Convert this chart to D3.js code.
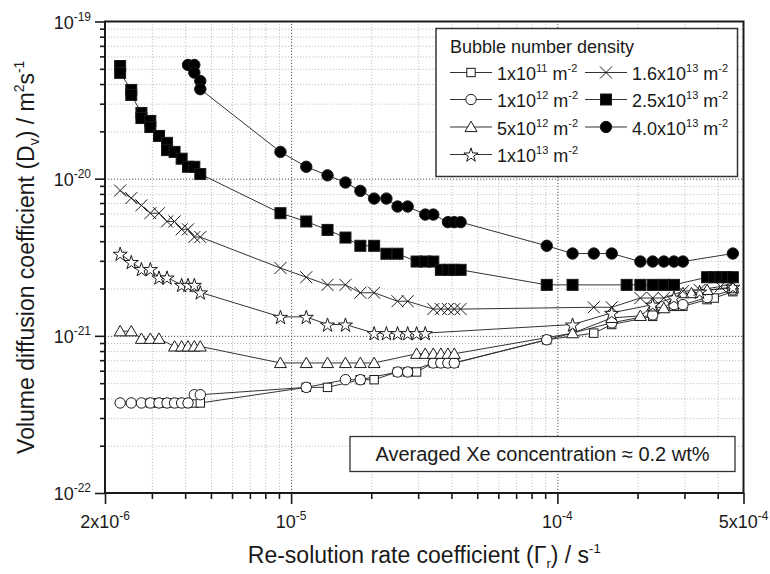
<!DOCTYPE html>
<html>
<head>
<meta charset="utf-8">
<script src="https://cdn.jsdelivr.net/npm/d3@7"></script>
<style>
  html, body { margin: 0; padding: 0; background: #fff; }
  svg { display: block; font-family: 'Liberation Sans', Arial, sans-serif; }
</style>
</head>
<body>
<div class="container"></div>
<script>
// Data: re-solution rate (s^-1) vs volume diffusion coefficient (m^2 s^-1)
const gamma1e11 = [2.96e-6, 3.19e-6, 3.42e-6, 3.65e-6, 3.88e-6, 4.10e-6, 4.33e-6, 4.56e-6, 1.14e-5, 1.37e-5, 1.82e-5, 2.05e-5, 2.51e-5, 2.74e-5, 2.96e-5, 3.42e-5, 3.65e-5, 3.88e-5, 4.10e-5, 9.12e-5, 1.37e-4, 1.60e-4, 2.28e-4, 2.74e-4, 2.96e-4, 3.65e-4, 3.88e-4, 4.56e-4];
const dv1e11 = [3.74e-22, 3.74e-22, 3.74e-22, 3.74e-22, 3.74e-22, 3.74e-22, 3.74e-22, 3.74e-22, 4.70e-22, 4.70e-22, 5.26e-22, 5.26e-22, 5.89e-22, 5.89e-22, 5.89e-22, 6.72e-22, 6.72e-22, 6.72e-22, 6.72e-22, 9.44e-22, 1.04e-21, 1.18e-21, 1.33e-21, 1.54e-21, 1.54e-21, 1.70e-21, 1.74e-21, 1.91e-21];

const gamma1e12 = [2.28e-6, 2.51e-6, 2.74e-6, 2.96e-6, 3.19e-6, 3.42e-6, 3.65e-6, 3.88e-6, 4.10e-6, 4.33e-6, 4.56e-6, 1.14e-5, 1.60e-5, 1.82e-5, 2.51e-5, 2.74e-5, 3.42e-5, 3.65e-5, 3.88e-5, 4.10e-5, 9.12e-5, 1.60e-4, 2.28e-4, 2.74e-4, 2.96e-4, 3.65e-4, 4.56e-4];
const dv1e12 = [3.74e-22, 3.74e-22, 3.74e-22, 3.74e-22, 3.74e-22, 3.74e-22, 3.74e-22, 3.74e-22, 3.74e-22, 4.22e-22, 4.22e-22, 4.70e-22, 5.26e-22, 5.26e-22, 5.89e-22, 5.89e-22, 6.72e-22, 6.72e-22, 6.72e-22, 6.72e-22, 9.44e-22, 1.21e-21, 1.36e-21, 1.58e-21, 1.58e-21, 1.75e-21, 1.96e-21];

const gamma5e12 = [2.28e-6, 2.51e-6, 2.74e-6, 2.96e-6, 3.19e-6, 3.65e-6, 3.88e-6, 4.10e-6, 4.33e-6, 4.56e-6, 9.12e-6, 1.14e-5, 1.37e-5, 1.60e-5, 1.82e-5, 2.05e-5, 2.96e-5, 3.19e-5, 3.42e-5, 3.65e-5, 3.88e-5, 4.10e-5, 1.14e-4, 1.60e-4, 2.05e-4, 2.28e-4, 2.51e-4, 2.96e-4, 3.19e-4, 3.65e-4, 4.56e-4];
const dv5e12 = [1.07e-21, 1.07e-21, 9.58e-22, 9.58e-22, 9.58e-22, 8.56e-22, 8.56e-22, 8.56e-22, 8.56e-22, 8.56e-22, 6.72e-22, 6.72e-22, 6.72e-22, 6.72e-22, 6.72e-22, 6.72e-22, 7.69e-22, 7.69e-22, 7.69e-22, 7.69e-22, 7.69e-22, 7.69e-22, 1.04e-21, 1.30e-21, 1.34e-21, 1.54e-21, 1.50e-21, 1.87e-21, 1.87e-21, 1.96e-21, 2.01e-21];

const gamma1e13 = [2.28e-6, 2.51e-6, 2.74e-6, 2.96e-6, 3.19e-6, 3.42e-6, 3.88e-6, 4.10e-6, 4.33e-6, 4.56e-6, 9.12e-6, 1.14e-5, 1.37e-5, 1.60e-5, 2.05e-5, 2.28e-5, 2.51e-5, 2.74e-5, 2.96e-5, 3.19e-5, 1.14e-4, 1.60e-4, 2.28e-4, 2.74e-4, 3.42e-4, 4.56e-4];
const dv1e13 = [3.33e-21, 2.95e-21, 2.66e-21, 2.66e-21, 2.35e-21, 2.35e-21, 2.11e-21, 2.11e-21, 2.11e-21, 1.89e-21, 1.32e-21, 1.32e-21, 1.18e-21, 1.18e-21, 1.04e-21, 1.04e-21, 1.04e-21, 1.04e-21, 1.04e-21, 1.04e-21, 1.18e-21, 1.40e-21, 1.58e-21, 1.75e-21, 1.91e-21, 2.05e-21];

const gamma16e13 = [2.28e-6, 2.51e-6, 2.74e-6, 2.96e-6, 3.19e-6, 3.42e-6, 3.65e-6, 3.88e-6, 4.10e-6, 4.33e-6, 4.56e-6, 9.12e-6, 1.14e-5, 1.37e-5, 1.60e-5, 1.82e-5, 2.05e-5, 2.51e-5, 2.74e-5, 3.42e-5, 3.65e-5, 3.88e-5, 4.10e-5, 4.33e-5, 1.37e-4, 1.60e-4, 2.05e-4, 2.28e-4, 2.51e-4, 2.96e-4, 3.42e-4, 4.10e-4, 4.56e-4];
const dv16e13 = [8.40e-21, 7.52e-21, 6.76e-21, 6.03e-21, 6.03e-21, 5.34e-21, 5.34e-21, 4.76e-21, 4.76e-21, 4.25e-21, 4.25e-21, 2.70e-21, 2.36e-21, 2.11e-21, 2.11e-21, 1.88e-21, 1.88e-21, 1.66e-21, 1.66e-21, 1.48e-21, 1.48e-21, 1.48e-21, 1.48e-21, 1.48e-21, 1.52e-21, 1.52e-21, 1.74e-21, 1.74e-21, 1.74e-21, 1.92e-21, 1.96e-21, 2.06e-21, 2.17e-21];

const gamma25e13 = [2.28e-6, 2.28e-6, 2.51e-6, 2.51e-6, 2.74e-6, 2.74e-6, 2.96e-6, 2.96e-6, 3.19e-6, 3.42e-6, 3.42e-6, 3.65e-6, 3.88e-6, 4.10e-6, 4.33e-6, 4.56e-6, 9.12e-6, 1.14e-5, 1.37e-5, 1.60e-5, 1.82e-5, 2.05e-5, 2.28e-5, 2.51e-5, 2.96e-5, 3.19e-5, 3.42e-5, 3.65e-5, 3.88e-5, 4.10e-5, 4.33e-5, 9.12e-5, 1.14e-4, 1.82e-4, 2.05e-4, 2.28e-4, 2.51e-4, 2.74e-4, 3.65e-4, 3.88e-4, 4.10e-4, 4.33e-4, 4.56e-4];
const dv25e13 = [5.21e-20, 4.71e-20, 3.67e-20, 3.41e-20, 2.62e-20, 2.43e-20, 2.33e-20, 2.13e-20, 1.87e-20, 1.69e-20, 1.52e-20, 1.48e-20, 1.34e-20, 1.19e-20, 1.19e-20, 1.07e-20, 6.03e-21, 5.34e-21, 4.72e-21, 4.22e-21, 3.74e-21, 3.74e-21, 3.33e-21, 3.33e-21, 2.97e-21, 2.97e-21, 2.97e-21, 2.63e-21, 2.63e-21, 2.63e-21, 2.63e-21, 2.11e-21, 2.11e-21, 2.11e-21, 2.11e-21, 2.11e-21, 2.11e-21, 2.11e-21, 2.36e-21, 2.36e-21, 2.36e-21, 2.36e-21, 2.36e-21];

const gamma4e13 = [4.10e-6, 4.33e-6, 4.33e-6, 4.56e-6, 4.56e-6, 9.12e-6, 1.14e-5, 1.37e-5, 1.60e-5, 1.82e-5, 2.05e-5, 2.28e-5, 2.51e-5, 2.74e-5, 3.19e-5, 3.42e-5, 3.88e-5, 4.10e-5, 4.33e-5, 9.12e-5, 1.14e-4, 1.37e-4, 1.60e-4, 2.05e-4, 2.28e-4, 2.51e-4, 2.74e-4, 2.96e-4, 4.56e-4];
const dv4e13 = [5.29e-20, 5.29e-20, 4.73e-20, 4.18e-20, 3.71e-20, 1.48e-20, 1.19e-20, 1.05e-20, 9.45e-21, 8.36e-21, 7.47e-21, 7.47e-21, 6.65e-21, 6.65e-21, 5.91e-21, 5.91e-21, 5.29e-21, 5.29e-21, 5.29e-21, 3.74e-21, 3.34e-21, 3.34e-21, 3.34e-21, 2.97e-21, 2.97e-21, 2.97e-21, 2.97e-21, 2.97e-21, 3.34e-21];

// Legend labels: [mantissa, exponent]
const seriesMantissa = ['1', '1', '5', '1', '1.6', '2.5', '4.0'];
const seriesExponent = ['11', '12', '12', '13', '13', '13', '13'];
const seriesMarker = ['sq', 'ci', 'tri', 'star', 'x', 'fsq', 'fci'];

// Axis ticks
const xMajorTicks = [2e-6, 1e-5, 1e-4, 5e-4];
const xMajorLabels = [['2x10', '-6'], ['10', '-5'], ['10', '-4'], ['5x10', '-4']];
const yMajorTicks = [1e-22, 1e-21, 1e-20, 1e-19];
const yMajorLabels = [['10', '-22'], ['10', '-21'], ['10', '-20'], ['10', '-19']];

// Constants
const width = 770;
const height = 574;
const margin = { left: 105, right: 26.5, top: 21.5, bottom: 81 };
const innerW = width - margin.left - margin.right;
const innerH = height - margin.top - margin.bottom;
const ink = '#1a1a1a';

const series = [
  [gamma1e11, dv1e11],
  [gamma1e12, dv1e12],
  [gamma5e12, dv5e12],
  [gamma1e13, dv1e13],
  [gamma16e13, dv16e13],
  [gamma25e13, dv25e13],
  [gamma4e13, dv4e13],
].map(([g, d], i) => ({
  marker: seriesMarker[i],
  points: g.map((v, j) => [v, d[j]]),
}));

const x = d3.scaleLog().domain([2e-6, 5e-4]).range([0, innerW]);
const y = d3.scaleLog().domain([1e-22, 1e-19]).range([innerH, 0]);

// minor tick values (every 1..9 of each decade inside the domain)
const xMinor = [];
[1e-6, 1e-5, 1e-4].forEach((dec) => {
  for (let m = 1; m < 10; m++) {
    const v = m * dec;
    if (v > 2e-6 * 1.0001 && v < 5e-4 * 0.9999 && !xMajorTicks.some((t) => Math.abs(t - v) / v < 1e-6)) xMinor.push(v);
  }
});
const yMinor = [];
[1e-22, 1e-21, 1e-20].forEach((dec) => {
  for (let m = 2; m < 10; m++) yMinor.push(m * dec);
});

// helper for super/subscripts
const richText = (sel, parts, size, small) => {
  let shift = 0;
  parts.forEach(([s, mode]) => {
    const target = mode === 'sup' ? -size * 0.42 : mode === 'sub' ? size * 0.22 : 0;
    const ts = sel.append('tspan').attr('dy', target - shift).text(s);
    if (mode) ts.style('font-size', small + 'px');
    shift = target;
  });
};

// marker drawing
const star = d3.symbol().type(d3.symbolStar).size(62);
const drawMarker = (g, type) => {
  const s = { stroke: ink, 'stroke-width': 1 };
  let m;
  if (type === 'sq') m = g.append('rect').attr('x', -4.2).attr('y', -4.2).attr('width', 8.4).attr('height', 8.4).attr('fill', '#fff');
  if (type === 'ci') m = g.append('circle').attr('r', 5.2).attr('fill', '#fff');
  if (type === 'tri') m = g.append('path').attr('d', 'M0,-5.8L6,4.6L-6,4.6Z').attr('fill', '#fff');
  if (type === 'star') m = g.append('path').attr('d', star()).attr('fill', '#fff').attr('transform', 'translate(0,0.8)');
  if (type === 'x') m = g.append('path').attr('d', 'M-6,-6L6,6M-6,6L6,-6').attr('fill', 'none');
  if (type === 'fsq') m = g.append('rect').attr('x', -5.5).attr('y', -5.5).attr('width', 11).attr('height', 11).attr('fill', '#000');
  if (type === 'fci') m = g.append('circle').attr('r', 5.7).attr('fill', '#000');
  Object.entries(s).forEach(([k, v]) => m.attr(k, v));
};

// Create svg
const svg = d3
  .select('.container')
  .append('svg')
  .attr('width', width)
  .attr('height', height);

const plot = svg.append('g').attr('transform', `translate(${margin.left},${margin.top})`);

// Grid lines
const gridStyle = (g, color) =>
  g.call((gg) => gg.select('.domain').remove())
    .selectAll('line')
    .attr('stroke', color)
    .attr('stroke-width', 1)
    .attr('stroke-dasharray', '1.2,1.8');

plot.append('g')
  .attr('transform', `translate(0,${innerH})`)
  .call(d3.axisBottom(x).tickValues(xMinor).tickSize(-innerH).tickFormat(''))
  .call((g) => gridStyle(g, '#c4c4c4'));
plot.append('g')
  .call(d3.axisLeft(y).tickValues(yMinor).tickSize(-innerW).tickFormat(''))
  .call((g) => gridStyle(g, '#c4c4c4'));
plot.append('g')
  .attr('transform', `translate(0,${innerH})`)
  .call(d3.axisBottom(x).tickValues([1e-5, 1e-4]).tickSize(-innerH).tickFormat(''))
  .call((g) => gridStyle(g, '#555'));
plot.append('g')
  .call(d3.axisLeft(y).tickValues([1e-21, 1e-20]).tickSize(-innerW).tickFormat(''))
  .call((g) => gridStyle(g, '#555'));

// Series lines and markers
const line = d3.line().x((d) => x(d[0])).y((d) => y(d[1]));
series.forEach((s) => {
  plot.append('path')
    .datum(s.points)
    .attr('d', line)
    .attr('fill', 'none')
    .attr('stroke', '#333')
    .attr('stroke-width', 1);
});
series.forEach((s) => {
  plot.append('g')
    .selectAll('g')
    .data(s.points)
    .enter()
    .append('g')
    .attr('transform', (d) => `translate(${x(d[0])},${y(d[1])})`)
    .each(function () { drawMarker(d3.select(this), s.marker); });
});

// Axes with ticks
const axisStyle = (g) => {
  g.select('.domain').remove();
  g.selectAll('line').attr('stroke', ink).attr('stroke-width', 1.6);
};
plot.append('g')
  .attr('transform', `translate(0,${innerH})`)
  .call(d3.axisBottom(x).tickValues(xMinor).tickSize(6).tickFormat(''))
  .call(axisStyle);
plot.append('g')
  .attr('transform', `translate(0,${innerH})`)
  .call(d3.axisBottom(x).tickValues(xMajorTicks).tickSize(11).tickFormat(''))
  .call(axisStyle);
plot.append('g')
  .call(d3.axisLeft(y).tickValues(yMinor).tickSize(5).tickFormat(''))
  .call(axisStyle);
plot.append('g')
  .call(d3.axisLeft(y).tickValues(yMajorTicks).tickSize(10).tickFormat(''))
  .call(axisStyle);

// Frame
plot.append('rect')
  .attr('width', innerW)
  .attr('height', innerH)
  .attr('fill', 'none')
  .attr('stroke', ink)
  .attr('stroke-width', 2);

// Tick labels
xMajorTicks.forEach((v, i) => {
  const t = plot.append('text')
    .attr('x', x(v))
    .attr('y', innerH + 35)
    .attr('text-anchor', 'middle')
    .attr('fill', ink)
    .style('font-size', '18px');
  richText(t, [[xMajorLabels[i][0]], [xMajorLabels[i][1], 'sup']], 18, 12);
});
yMajorTicks.forEach((v, i) => {
  const t = plot.append('text')
    .attr('x', -14)
    .attr('y', y(v) + 7)
    .attr('text-anchor', 'end')
    .attr('fill', ink)
    .style('font-size', '18px');
  richText(t, [[yMajorLabels[i][0]], [yMajorLabels[i][1], 'sup']], 18, 12);
});

// Axis titles
const xTitle = svg.append('text')
  .attr('x', margin.left + innerW / 2)
  .attr('y', 563)
  .attr('text-anchor', 'middle')
  .attr('fill', ink)
  .style('font-size', '23px');
richText(xTitle, [['Re-solution rate coefficient (\u0393'], ['r', 'sub'], [') / s'], ['-1', 'sup']], 23, 13);

const yTitle = svg.append('text')
  .attr('transform', `translate(34,${margin.top + innerH / 2}) rotate(-90)`)
  .attr('text-anchor', 'middle')
  .attr('fill', ink)
  .style('font-size', '23px');
richText(yTitle, [['Volume diffusion coefficient (D'], ['v', 'sub'], [') / m'], ['2', 'sup'], ['s'], ['-1', 'sup']], 23, 14);

// Add legend
const legend = svg.append('g').attr('id', 'legend');
legend.append('rect')
  .attr('x', 436)
  .attr('y', 28.5)
  .attr('width', 301.5)
  .attr('height', 148)
  .attr('fill', '#fff')
  .attr('stroke', '#333')
  .attr('stroke-width', 1.5);
legend.append('text')
  .attr('x', 450)
  .attr('y', 53)
  .attr('fill', ink)
  .style('font-size', '18px')
  .text('Bubble number density');

const legendCols = [450, 585];
const legendRows = [72.5, 99.5, 127, 154.5];
seriesMarker.forEach((m, i) => {
  const col = i < 4 ? 0 : 1;
  const row = i < 4 ? i : i - 4;
  const lx = legendCols[col];
  const ly = legendRows[row];
  const item = legend.append('g');
  item.append('line')
    .attr('x1', lx).attr('x2', lx + 42)
    .attr('y1', ly).attr('y2', ly)
    .attr('stroke', '#333').attr('stroke-width', 1);
  drawMarker(item.append('g').attr('transform', `translate(${lx + 21},${ly})`), m);
  const t = item.append('text')
    .attr('x', lx + 47)
    .attr('y', ly + 7.5)
    .attr('fill', ink)
    .style('font-size', '18px');
  richText(t, [[seriesMantissa[i] + 'x10'], [seriesExponent[i], 'sup'], [' m'], ['-2', 'sup']], 18, 11);
});

// Annotation box
svg.append('rect')
  .attr('x', 350)
  .attr('y', 436.5)
  .attr('width', 385)
  .attr('height', 35)
  .attr('fill', '#fff')
  .attr('stroke', '#333')
  .attr('stroke-width', 1.3);
svg.append('text')
  .attr('x', 542.5)
  .attr('y', 461)
  .attr('text-anchor', 'middle')
  .attr('fill', ink)
  .style('font-size', '20px')
  .text('Averaged Xe concentration \u2248 0.2 wt%');
</script>
</body>
</html>
